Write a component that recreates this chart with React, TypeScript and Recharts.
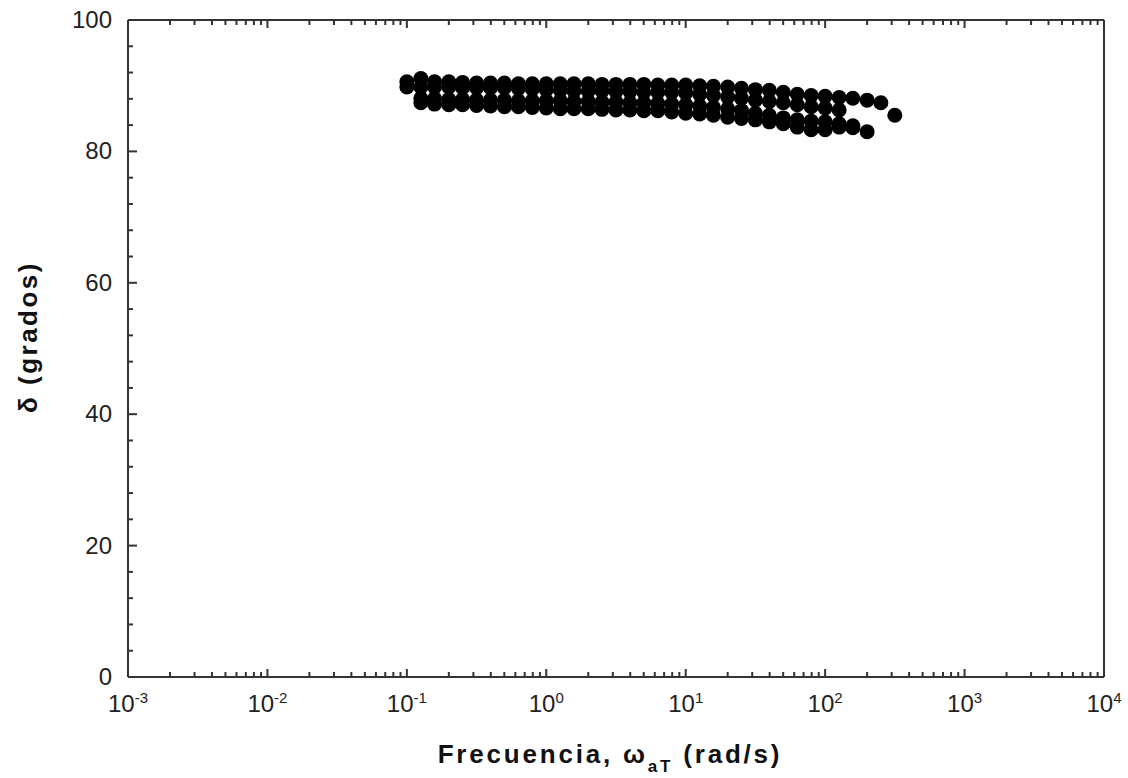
import { ScatterChart, Scatter, XAxis, YAxis } from "recharts";

// frequencies (rad/s), 10 per decade
const freq = [0.1, 0.126, 0.158, 0.2, 0.251, 0.316, 0.398, 0.501, 0.631, 0.794, 1, 1.26, 1.58, 2, 2.51, 3.16, 3.98, 5.01, 6.31, 7.94, 10, 12.6, 15.8, 20, 25.1, 31.6, 39.8, 50.1, 63.1, 79.4, 100, 126, 158, 200, 251, 316];

// phase angle (degrees) for each data set, null = no point
const serieA = [90.6, 91.1, 90.6, 90.6, 90.5, 90.4, 90.4, 90.4, 90.3, 90.3, 90.3, 90.3, 90.3, 90.3, 90.2, 90.2, 90.2, 90.2, 90.1, 90.1, 90.1, 90.0, 89.9, 89.8, 89.6, 89.4, 89.3, 89.0, 88.7, 88.5, 88.4, 88.2, 88.1, 87.8, 87.4, 85.5];
const serieB = [89.8, 89.8, 89.8, 89.8, 89.7, 89.7, 89.7, 89.7, 89.6, 89.5, 89.4, 89.3, 89.2, 89.2, 89.2, 89.1, 89.1, 89.0, 89.0, 89.0, 88.9, 88.7, 88.5, 88.3, 88.1, 87.8, 87.6, 87.4, 87.1, 86.8, 86.6, 86.3, null, null, null, null];
const serieC = [null, 88.1, 88.0, 87.9, 87.9, 87.8, 87.8, 87.8, 87.7, 87.7, 87.7, 87.7, 87.6, 87.6, 87.5, 87.5, 87.4, 87.4, 87.3, 87.2, 87.1, 86.9, 86.7, 86.5, 86.2, 85.8, 85.5, 85.1, 84.8, 84.6, 84.5, 84.2, 83.9, null, null, null];
const serieD = [null, 87.4, 87.2, 87.1, 87.1, 87.0, 86.9, 86.8, 86.8, 86.7, 86.6, 86.5, 86.5, 86.5, 86.4, 86.3, 86.3, 86.2, 86.2, 86.0, 85.8, 85.7, 85.5, 85.2, 85.0, 84.8, 84.5, 84.2, 83.7, 83.3, 83.3, 83.7, 83.6, 83.0, null, null];

// axis ticks
const decades = [0.001, 0.01, 0.1, 1, 10, 100, 1000, 10000];
const exponents = ["-3", "-2", "-1", "0", "1", "2", "3", "4"];
const minorMult = [2, 3, 4, 5, 6, 7, 8, 9];
const yTicks = [0, 4, 8, 12, 16, 20, 24, 28, 32, 36, 40, 44, 48, 52, 56, 60, 64, 68, 72, 76, 80, 84, 88, 92, 96, 100];
const yLabels = [0, 20, 40, 60, 80, 100];

const xTicks = [...decades, ...decades.slice(0, -1).flatMap((d) => minorMult.map((m) => d * m))];

const toPoints = (vals: (number | null)[]) =>
  freq.map((f, i) => ({ f, d: vals[i] })).filter((p) => p.d !== null);

const series = [serieA, serieB, serieC, serieD].map(toPoints);

const AXIS = "#333";
const FONT = "'Liberation Sans', Arial, sans-serif";

const Dot = (p: any) => <circle cx={p.cx} cy={p.cy} r={7.5} fill="#000" />;

const BottomTick = ({ x, y, payload }: any) => {
  const i = decades.indexOf(payload.value);
  const major = i >= 0;
  return (
    <g>
      <line x1={x} y1={y} x2={x} y2={y - (major ? 8 : 5)} stroke={AXIS} strokeWidth={2} />
      {major && (
        <text x={x} y={y + 35} textAnchor="middle" fontSize={24} fill="#222" fontFamily={FONT}>
          10<tspan dy={-9} fontSize={15}>{exponents[i]}</tspan>
        </text>
      )}
    </g>
  );
};

const TopTick = ({ x, y, payload }: any) => {
  const major = decades.indexOf(payload.value) >= 0;
  return <line x1={x} y1={y} x2={x} y2={y + (major ? 8 : 5)} stroke={AXIS} strokeWidth={2} />;
};

const LeftTick = ({ x, y, payload }: any) => {
  const major = yLabels.includes(payload.value);
  return (
    <g>
      <line x1={x} y1={y} x2={x + (major ? 9 : 5)} y2={y} stroke={AXIS} strokeWidth={2} />
      {major && (
        <text x={x - 16} y={y + 8} textAnchor="end" fontSize={24} fill="#222" fontFamily={FONT}>
          {payload.value}
        </text>
      )}
    </g>
  );
};

const RightTick = ({ x, y, payload }: any) => {
  const major = yLabels.includes(payload.value);
  return <line x1={x} y1={y} x2={x - (major ? 9 : 5)} y2={y} stroke={AXIS} strokeWidth={2} />;
};

export default function App() {
  return (
    <div style={{ position: "absolute", left: 0, top: 0, width: 1128, height: 778, background: "#fff" }}>
      <ScatterChart width={1128} height={778} margin={{ top: 19, right: 23, bottom: 41, left: 28 }}>
        <XAxis
          xAxisId="b"
          dataKey="f"
          type="number"
          scale="log"
          domain={[0.001, 10000]}
          allowDataOverflow
          ticks={xTicks}
          interval={0}
          height={60}
          tickSize={0}
          tickMargin={0}
          tickLine={false}
          axisLine={{ stroke: AXIS, strokeWidth: 2 }}
          tick={<BottomTick />}
        />
        <XAxis
          xAxisId="t"
          orientation="top"
          dataKey="f"
          type="number"
          scale="log"
          domain={[0.001, 10000]}
          allowDataOverflow
          ticks={xTicks}
          interval={0}
          height={1}
          tickSize={0}
          tickMargin={0}
          tickLine={false}
          axisLine={{ stroke: AXIS, strokeWidth: 2 }}
          tick={<TopTick />}
        />
        <YAxis
          yAxisId="l"
          dataKey="d"
          type="number"
          domain={[0, 100]}
          ticks={yTicks}
          interval={0}
          width={100}
          tickSize={0}
          tickMargin={0}
          tickLine={false}
          axisLine={{ stroke: AXIS, strokeWidth: 2 }}
          tick={<LeftTick />}
        />
        <YAxis
          yAxisId="r"
          orientation="right"
          dataKey="d"
          type="number"
          domain={[0, 100]}
          ticks={yTicks}
          interval={0}
          width={1}
          tickSize={0}
          tickMargin={0}
          tickLine={false}
          axisLine={{ stroke: AXIS, strokeWidth: 2 }}
          tick={<RightTick />}
        />
        {series.map((pts, k) => (
          <Scatter key={k} data={pts} xAxisId="b" yAxisId="l" shape={<Dot />} isAnimationActive={false} />
        ))}
      </ScatterChart>
      <svg width={1128} height={778} style={{ position: "absolute", left: 0, top: 0, pointerEvents: "none" }}>
        <text x={610} y={763} textAnchor="middle" fontWeight="bold" fontSize={26} letterSpacing={2.8} fill="#111" fontFamily={FONT}>
          Frecuencia, ω<tspan dy={9} fontSize={17}>aT</tspan>
          <tspan dy={-9}> (rad/s)</tspan>
        </text>
        <text transform="rotate(-90)" x={-337} y={37} textAnchor="middle" fontWeight="bold" fontSize={26} letterSpacing={2.5} fill="#111" fontFamily={FONT}>
          δ (grados)
        </text>
      </svg>
    </div>
  );
}
